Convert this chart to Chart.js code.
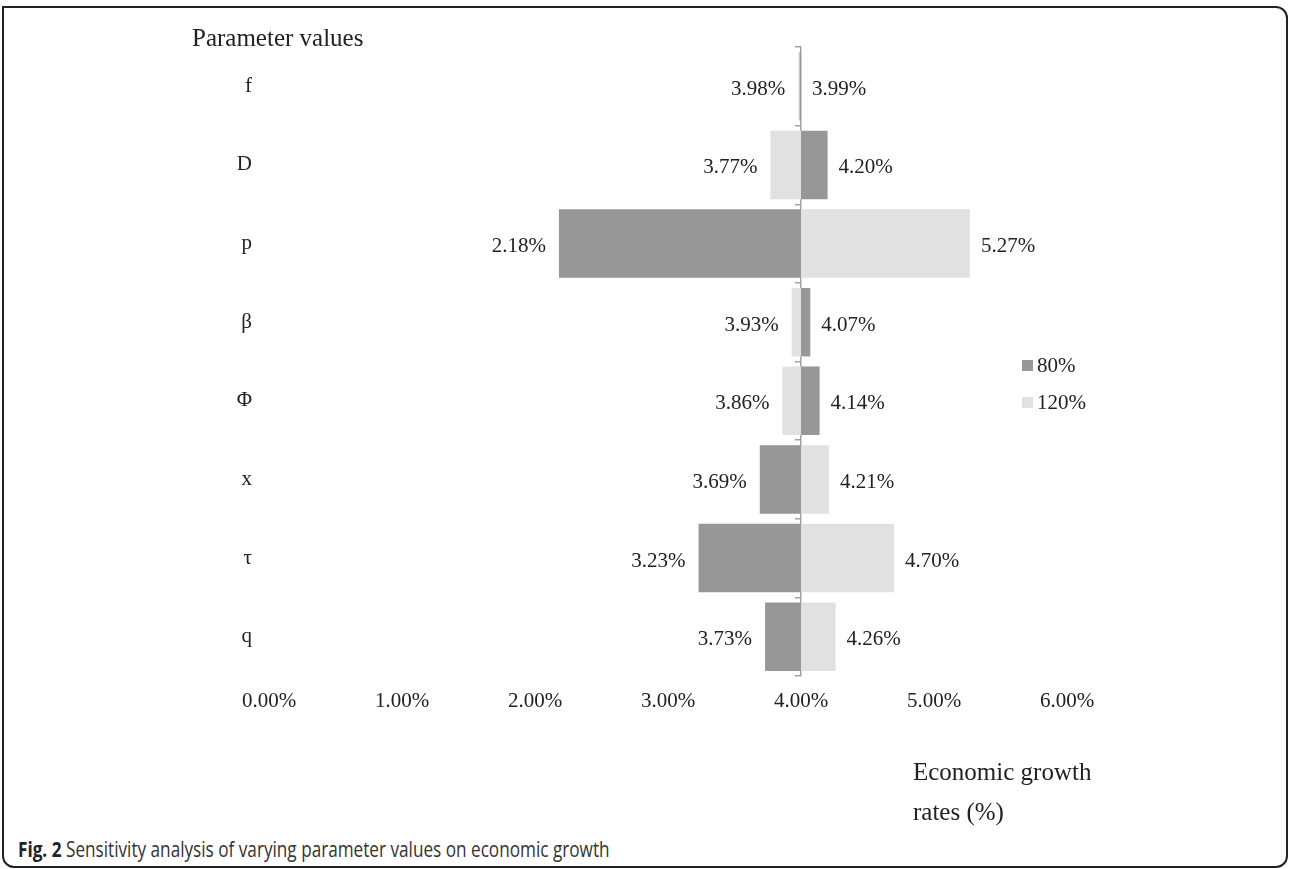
<!DOCTYPE html>
<html><head><meta charset="utf-8">
<script src="https://cdn.jsdelivr.net/npm/chart.js@4.4.0/dist/chart.umd.min.js"></script>
<style>
html,body{margin:0;padding:0;background:#fff;width:1290px;height:869px;overflow:hidden;}
#frame{position:absolute;left:2px;top:6px;width:1286px;height:862px;border:2px solid #222;border-radius:0 12px 12px 12px;box-sizing:border-box;}
#wrap{position:absolute;left:0;top:0;width:1290px;height:760px;}
.t{position:absolute;font-family:"Liberation Serif","Times New Roman",serif;color:#222;white-space:nowrap;}
#cap{position:absolute;left:18px;top:834px;font-family:"Open Sans",sans-serif;font-size:22px;line-height:28px;color:#333;white-space:nowrap;transform:scaleX(0.78);transform-origin:0 50%;}
#cap b{color:#222;}
</style></head><body>
<div id="frame"></div>
<div id="wrap"><canvas id="c" width="1290" height="760"></canvas></div>
<div class="t" style="left:192px;top:23px;font-size:25px;line-height:30px">Parameter values</div>
<div class="t" style="left:913px;top:752px;font-size:25px;line-height:40px">Economic growth<br>rates (%)</div>
<div id="cap"><b>Fig. 2</b> Sensitivity analysis of varying parameter values on economic growth</div>
<script>
const categories = ['f', 'D', 'p', 'β', 'Φ', 'x', 'τ', 'q'];
const baseRate = 4.0;
const growth80 = [3.99, 4.20, 2.18, 4.07, 4.14, 3.69, 3.23, 3.73];
const growth120 = [3.98, 3.77, 5.27, 3.93, 3.86, 4.21, 4.70, 4.26];
const xTickValues = [0, 1, 2, 3, 4, 5, 6];
const seriesNames = ['80%', '120%'];
const seriesColors = ['#979797', '#e1e1e1'];

const serif = '"Liberation Serif", "Times New Roman", serif';

const valueLabels = {
  id: 'valueLabels',
  afterDatasetsDraw(chart) {
    const ctx = chart.ctx;
    ctx.save();
    ctx.font = '21px ' + serif;
    ctx.fillStyle = '#222';
    ctx.textBaseline = 'middle';
    chart.data.datasets.forEach((ds, di) => {
      const meta = chart.getDatasetMeta(di);
      meta.data.forEach((el, i) => {
        const v = ds.data[i][1];
        const other = chart.data.datasets[1 - di].data[i][1];
        const isLeft = v < other;
        ctx.textAlign = isLeft ? 'right' : 'left';
        const x = isLeft ? Math.min(el.x, el.base) - 13 : Math.max(el.x, el.base) + 11;
        ctx.fillText(v.toFixed(2) + '%', x, el.y + 3);
      });
    });
    ctx.restore();
  }
};

const legendBox = {
  id: 'legendBox',
  afterDraw(chart) {
    const ctx = chart.ctx;
    ctx.save();
    ctx.font = '21px ' + serif;
    ctx.textBaseline = 'middle';
    ctx.textAlign = 'left';
    chart.data.datasets.forEach((ds, i) => {
      const y = 365 + i * 37;
      ctx.fillStyle = ds.backgroundColor;
      ctx.fillRect(1022, y - 5, 11, 11);
      ctx.fillStyle = '#222';
      ctx.fillText(ds.label, 1037, y + 1);
    });
    ctx.restore();
  }
};

new Chart(document.getElementById('c'), {
  type: 'bar',
  data: {
    labels: categories,
    datasets: [
      { label: seriesNames[0], data: growth80.map(v => [baseRate, v]), backgroundColor: seriesColors[0] },
      { label: seriesNames[1], data: growth120.map(v => [baseRate, v]), backgroundColor: seriesColors[1] }
    ]
  },
  options: {
    indexAxis: 'y',
    responsive: false,
    animation: false,
    datasets: { bar: { grouped: false, barPercentage: 0.87, categoryPercentage: 1, borderWidth: 0 } },
    layout: { padding: { left: 0, top: 47, right: 223, bottom: 0 } },
    plugins: { legend: { display: false }, tooltip: { enabled: false } },
    scales: {
      x: {
        type: 'linear', min: 0, max: 6,
        afterBuildTicks: s => { s.ticks = xTickValues.map(v => ({ value: v })); },
        ticks: { callback: v => Number(v).toFixed(2) + '%', font: { family: serif, size: 21 }, color: '#222', padding: 13, maxRotation: 0, autoSkip: false },
        grid: { display: false, drawTicks: false },
        border: { display: false },
        afterFit: s => { s.height = 84; }
      },
      y: {
        type: 'category', position: 'left',
        grid: { display: false, drawTicks: false },
        border: { display: false },
        ticks: { font: { family: serif, size: 21 }, color: '#222', padding: 17 },
        afterFit: s => { s.width = 269; }
      },
      yc: {
        type: 'category', axis: 'y', labels: categories, position: { x: baseRate },
        offset: true,
        ticks: { display: false },
        grid: { drawOnChartArea: false, drawTicks: true, tickLength: 5, color: '#a3a3a3', offset: true, lineWidth: 1.5 },
        border: { display: true, color: '#a3a3a3', width: 1.5 }
      }
    }
  },
  plugins: [valueLabels, legendBox]
});
</script>
</body></html>
